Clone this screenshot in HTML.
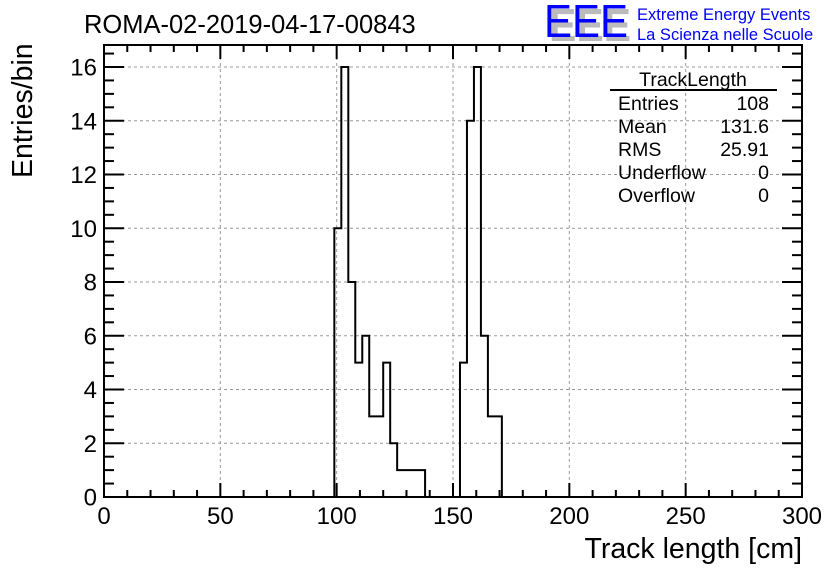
<!DOCTYPE html>
<html><head><meta charset="utf-8"><style>
body{margin:0;background:#fff;}
svg{display:block;font-family:"Liberation Sans",sans-serif;}
</style></head><body>
<svg id="c" width="836" height="572">
<text x="84" y="33" font-size="25.5">ROMA-02-2019-04-17-00843</text>
<g>
<text x="549" y="41" font-size="46" fill="#bbb" font-weight="bold" textLength="82" lengthAdjust="spacingAndGlyphs">EEE</text>
<text x="544" y="37" font-size="46" fill="#00f" textLength="84" lengthAdjust="spacingAndGlyphs">EEE</text>
<text x="637" y="20" font-size="16.5" fill="#00f">Extreme Energy Events</text>
<text x="637" y="40" font-size="16.5" fill="#00f">La Scienza nelle Scuole</text>
</g>
<g id="grid"></g>
<g id="axes"></g>
<path id="hist" fill="none" stroke="#000" stroke-width="2"></path>
<rect x="104" y="45" width="698" height="452" fill="none" stroke="#000" stroke-width="2"/>
<g font-size="19.5">
<text x="693" y="86" text-anchor="middle">TrackLength</text>
<line x1="610" y1="90" x2="777" y2="90" stroke="#000" stroke-width="2"/>
<text x="618" y="110">Entries</text><text x="769" y="110" text-anchor="end">108</text>
<text x="618" y="133">Mean</text><text x="769" y="133" text-anchor="end">131.6</text>
<text x="618" y="156">RMS</text><text x="769" y="156" text-anchor="end">25.91</text>
<text x="618" y="179">Underflow</text><text x="769" y="179" text-anchor="end">0</text>
<text x="618" y="202">Overflow</text><text x="769" y="202" text-anchor="end">0</text>
</g>
<text x="802" y="558" font-size="28.5" text-anchor="end">Track length [cm]</text>
<text transform="translate(32,178) rotate(-90)" font-size="28.5" text-anchor="start">Entries/bin</text>
</svg>
<script>
const binEdgesStart = [99,102,105,108,111,114,117,120,123,126,129,132,135,138,141,144,147,150,153,156,159,162,165,168];
const binCounts =     [10,16,8,5,6,3,3,5,2,1,1,1,1,0,0,0,0,0,5,14,16,6,3,3];
const binWidth = 3;
const xTicks = [0,50,100,150,200,250,300];
const yTicks = [0,2,4,6,8,10,12,14,16];
const X0=104,X1=802,Y0=497,YT=67;
const sx=v=>X0+(v-0)/(300)*(X1-X0);
const sy=v=>Y0-v/16*(Y0-YT);
const NS="http://www.w3.org/2000/svg";
const grid=document.getElementById('grid'),axes=document.getElementById('axes');
function mk(tag,attrs,parent){const e=document.createElementNS(NS,tag);for(const k in attrs)e.setAttribute(k,attrs[k]);parent.appendChild(e);return e;}
xTicks.forEach(t=>{
  const x=sx(t);
  if(t>0&&t<300){const g=mk('line',{x1:x,x2:x,y1:45,y2:497,stroke:'#999','stroke-dasharray':'3,3'},grid);
  
  }
  const l=mk('line',{x1:x,x2:x,y1:497,y2:483,stroke:'#000','stroke-width':2},axes);
  
  
  const tx=mk('text',{x:x,y:524,'font-size':24,'text-anchor':'middle'},axes);tx.textContent=t;
  
  
});
for(let v=0;v<=300;v+=10){if(v%50){const x=sx(v);const m=mk('line',{x1:x,x2:x,y1:497,y2:490,stroke:'#000','stroke-width':2},axes);
  
  
  const m2=mk('line',{x1:x,x2:x,y1:45,y2:52,stroke:'#000','stroke-width':2},axes);
  
  }}
xTicks.forEach(t=>{const x=sx(t);const l=mk('line',{x1:x,x2:x,y1:45,y2:59,stroke:'#000','stroke-width':2},axes);
  
  });
yTicks.forEach(t=>{
  const y=sy(t);
  if(t>0){const g=mk('line',{x1:104,x2:802,y1:y,y2:y,stroke:'#999','stroke-dasharray':'3,3'},grid);
  
  }
  const l=mk('line',{x1:104,x2:124,y1:y,y2:y,stroke:'#000','stroke-width':2},axes);
  
  
  const r=mk('line',{x1:782,x2:802,y1:y,y2:y,stroke:'#000','stroke-width':2},axes);
  
  
  const tx=mk('text',{x:97,y:y+8.5,'font-size':24,'text-anchor':'end'},axes);tx.textContent=t;
  
  
});
for(let v=0;v<=16.8;v+=0.5){if(v%2){const y=sy(v);if(y<46)continue;
  const m=mk('line',{x1:104,x2:114,y1:y,y2:y,stroke:'#000','stroke-width':2},axes);
  
  
  const m2=mk('line',{x1:792,x2:802,y1:y,y2:y,stroke:'#000','stroke-width':2},axes);
  
  }}
let d='M'+sx(binEdgesStart[0])+','+sy(0);
binEdgesStart.forEach((e,i)=>{d+=' L'+sx(e)+','+sy(binCounts[i])+' L'+sx(e+binWidth)+','+sy(binCounts[i]);});
d+=' L'+sx(binEdgesStart[binEdgesStart.length-1]+binWidth)+','+sy(0);
document.getElementById('hist').setAttribute('d',d);
</script>
</body></html>
